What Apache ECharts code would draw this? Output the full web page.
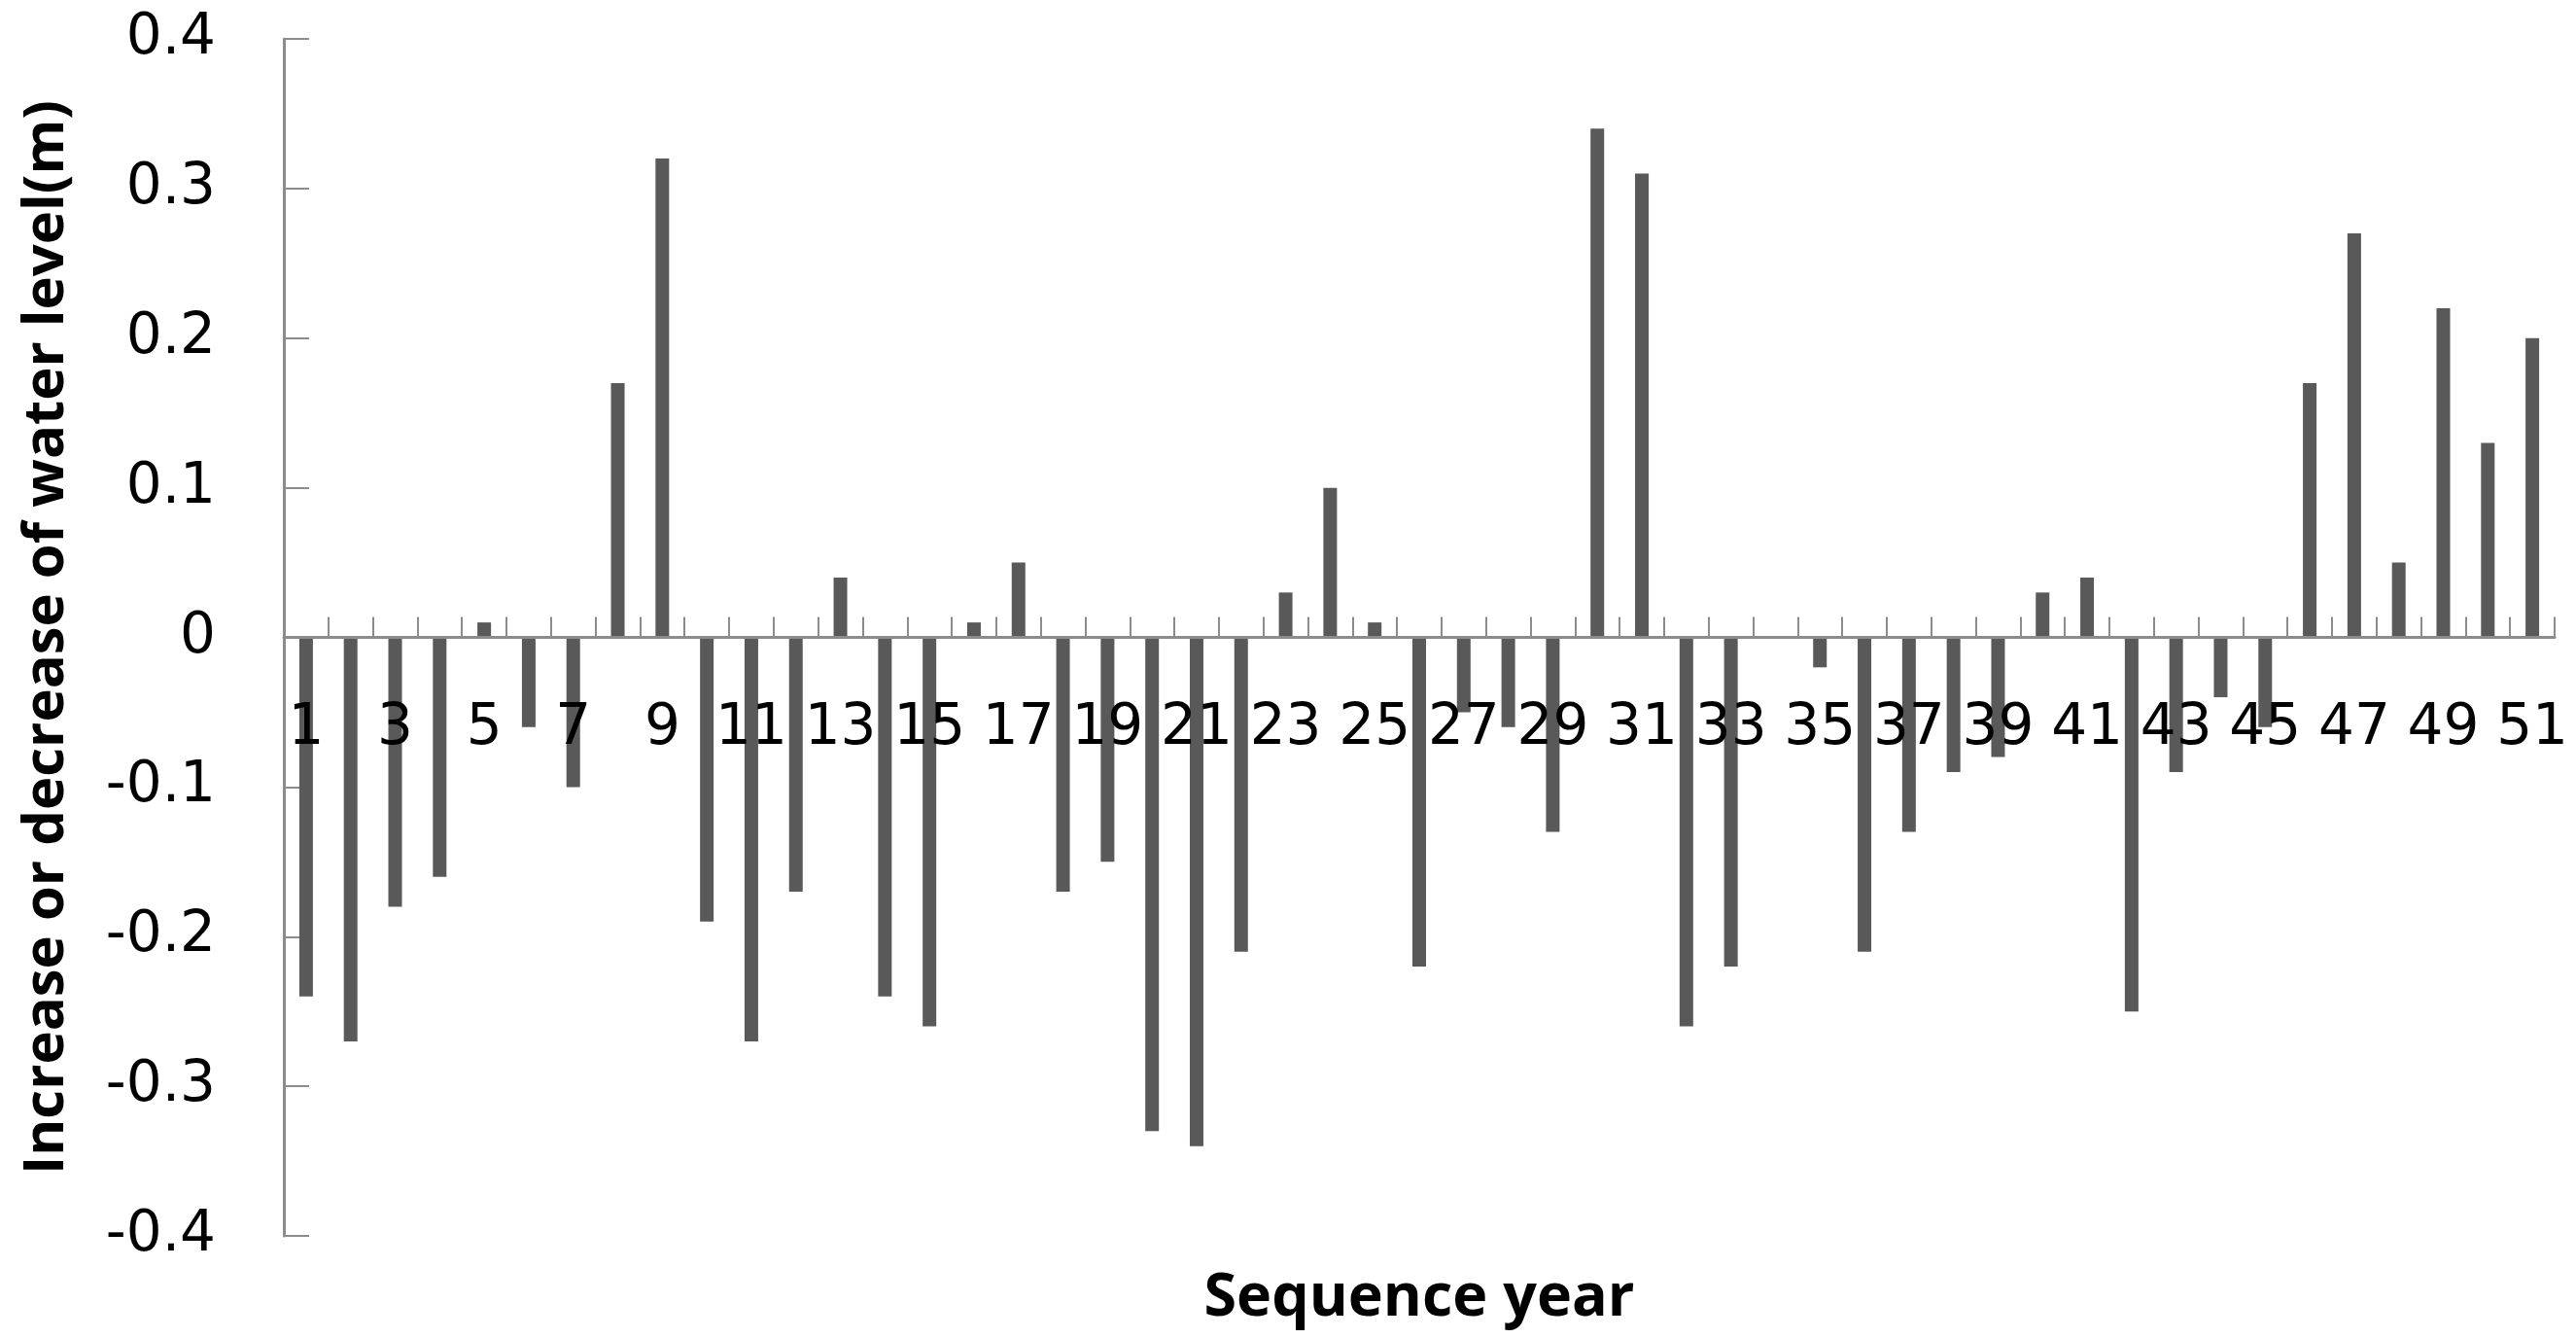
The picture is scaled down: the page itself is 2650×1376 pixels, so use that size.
<!DOCTYPE html>
<html>
<head>
<meta charset="utf-8">
<script src="https://cdn.jsdelivr.net/npm/echarts@6/dist/echarts.min.js"></script>
<style>
html,body{margin:0;padding:0;background:#fff;}
#c{width:2650px;height:1376px;}
</style>
</head>
<body>
<div id="c"></div>
<script>
const categories = Array.from({length: 51}, (_, i) => String(i + 1));
const waterLevelChange = [
  -0.24, -0.27, -0.18, -0.16, 0.01, -0.06, -0.10, 0.17, 0.32, -0.19,
  -0.27, -0.17, 0.04, -0.24, -0.26, 0.01, 0.05, -0.17, -0.15, -0.33,
  -0.34, -0.21, 0.03, 0.10, 0.01, -0.22, -0.05, -0.06, -0.13, 0.34,
  0.31, -0.26, -0.22, 0, -0.02, -0.21, -0.13, -0.09, -0.08, 0.03,
  0.04, -0.25, -0.09, -0.04, -0.06, 0.17, 0.27, 0.05, 0.22, 0.13,
  0.20
];
const yAxisTitle = 'Increase or decrease of water level(m)';
const xAxisTitle = 'Sequence year';

const chart = echarts.init(document.getElementById('c'));
const axisGray = '#8c8c8c';
chart.setOption({
  animation: false,
  backgroundColor: '#ffffff',
  grid: {left: 292, right: 22, top: 40, bottom: 105, containLabel: false, outerBoundsMode: 'none'},
  xAxis: {
    type: 'category',
    data: categories,
    boundaryGap: true,
    z: 5,
    axisLine: {onZero: true, lineStyle: {color: axisGray, width: 3}},
    axisTick: {show: true, inside: true, length: 21, interval: 0, lineStyle: {color: axisGray, width: 2}},
    axisLabel: {interval: 1, margin: -550, color: '#000', fontSize: 58, fontFamily: 'DejaVu Sans', hideOverlap: false},
    name: xAxisTitle,
    nameLocation: 'middle',
    nameGap: 34,
    nameTextStyle: {color: '#000', fontSize: 61, fontWeight: 'bold', fontFamily: 'Open Sans', verticalAlign: 'top'}
  },
  yAxis: {
    type: 'value',
    min: -0.4, max: 0.4, interval: 0.1,
    splitLine: {show: false},
    axisLine: {show: true, lineStyle: {color: axisGray, width: 3}},
    axisTick: {show: true, inside: true, length: 26, lineStyle: {color: axisGray, width: 2}},
    axisLabel: {
      margin: 70, color: '#000', fontSize: 58, fontFamily: 'DejaVu Sans',
      formatter: v => (Math.abs(v) < 1e-9 ? '0' : String(Math.round(v * 10) / 10))
    },
    name: yAxisTitle,
    nameLocation: 'middle',
    nameGap: 215,
    nameTextStyle: {color: '#000', fontSize: 58, fontWeight: 'bold', fontFamily: 'Open Sans'}
  },
  series: [{
    type: 'bar',
    data: waterLevelChange,
    barWidth: 14,
    itemStyle: {color: '#595959'}
  }]
});
</script>
</body>
</html>
